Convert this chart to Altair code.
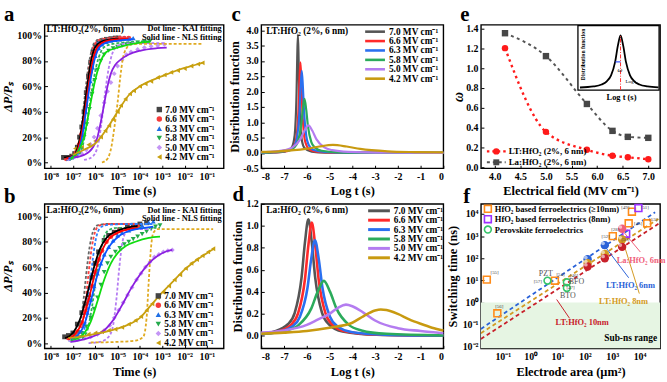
import altair as alt
import pandas as pd

FONT = "Liberation Serif"

# ---------------- shared series definitions ----------------
FIELDS = ["7.0", "6.6", "6.3", "5.8", "5.0", "4.2"]
FIELD_NAMES = [f"{f} MV cm⁻¹" for f in FIELDS]
DOT_COLORS = ["#444444", "#f53b3b", "#1f6fe5", "#23a94b", "#c495f5", "#c8a00f"]
NLS_COLORS = ["#000000", "#ff0000", "#0a55ff", "#10dd10", "#8b1fe0", "#c8a00f"]
KAI_COLORS = ["#666666", "#ff4040", "#2f7fff", "#2fb05a", "#b57cf2", "#e0aa20"]
CURVE_COLORS = ["#555555", "#ff2a2a", "#2a70f0", "#2bab5b", "#b47cf0", "#c89a10"]
SHAPES = ["square", "circle", "triangle-up", "triangle-down", "diamond", "triangle-left"]

TIME_EXPONENTS = [-8, -7, -6, -5, -4, -3, -2, -1]
PCT_TICKS = [0.0, 0.2, 0.4, 0.6, 0.8, 1.0]

# ---------------- (a) LT:HfO2 switching kinetics, log10(t) vs dP/Ps ----------------
A_DOTS = {
    "7.0": [(-7.42, 0.04), (-7.3, 0.04), (-7.18, 0.04), (-7.05, 0.05), (-6.92, 0.07), (-6.8, 0.12), (-6.7, 0.2),
            (-6.6, 0.28), (-6.5, 0.4), (-6.4, 0.55), (-6.3, 0.68), (-6.2, 0.79), (-6.1, 0.87), (-6.0, 0.92),
            (-5.85, 0.95), (-5.7, 0.96), (-5.5, 0.97), (-5.3, 0.975), (-5.1, 0.98), (-4.95, 0.98)],
    "6.6": [(-7.3, 0.03), (-7.15, 0.035), (-7.0, 0.05), (-6.85, 0.08), (-6.72, 0.14), (-6.62, 0.22), (-6.52, 0.32),
            (-6.42, 0.45), (-6.32, 0.58), (-6.22, 0.71), (-6.12, 0.8), (-6.0, 0.87), (-5.85, 0.92), (-5.7, 0.945),
            (-5.5, 0.96), (-5.3, 0.97), (-5.1, 0.975), (-4.9, 0.98), (-4.7, 0.98), (-4.5, 0.98)],
    "6.3": [(-7.2, 0.03), (-7.05, 0.04), (-6.9, 0.06), (-6.75, 0.1), (-6.62, 0.18), (-6.52, 0.28), (-6.42, 0.4),
            (-6.32, 0.52), (-6.22, 0.64), (-6.12, 0.75), (-6.0, 0.84), (-5.85, 0.9), (-5.7, 0.93), (-5.5, 0.95),
            (-5.3, 0.96), (-5.1, 0.965), (-4.9, 0.97), (-4.7, 0.975), (-4.5, 0.975), (-4.3, 0.98)],
    "5.8": [(-7.1, 0.03), (-6.95, 0.05), (-6.8, 0.08), (-6.65, 0.13), (-6.5, 0.2), (-6.38, 0.3), (-6.26, 0.42),
            (-6.14, 0.54), (-6.02, 0.65), (-5.9, 0.73), (-5.75, 0.8), (-5.6, 0.85), (-5.4, 0.88), (-5.2, 0.9),
            (-5.0, 0.91), (-4.8, 0.92), (-4.6, 0.93), (-4.4, 0.935), (-4.1, 0.945), (-3.8, 0.95), (-3.55, 0.955)],
    "5.0": [(-7.2, 0.03), (-7.0, 0.04), (-6.8, 0.05), (-6.6, 0.07), (-6.4, 0.1), (-6.2, 0.14), (-6.05, 0.2),
            (-5.9, 0.27), (-5.75, 0.37), (-5.6, 0.47), (-5.45, 0.56), (-5.3, 0.63), (-5.15, 0.7), (-5.0, 0.76),
            (-4.8, 0.81), (-4.6, 0.85), (-4.4, 0.87), (-4.1, 0.89), (-3.8, 0.905), (-3.5, 0.915), (-3.2, 0.92),
            (-2.9, 0.93)],
    "4.2": [(-6.9, 0.11), (-6.6, 0.12), (-6.3, 0.14), (-6.0, 0.17), (-5.75, 0.2), (-5.55, 0.25), (-5.38, 0.29),
            (-5.2, 0.34), (-5.0, 0.4), (-4.85, 0.45), (-4.65, 0.5), (-4.45, 0.54), (-4.27, 0.565), (-4.0, 0.6),
            (-3.75, 0.62), (-3.5, 0.64), (-3.2, 0.67), (-2.9, 0.69), (-2.6, 0.71), (-2.3, 0.725), (-2.0, 0.74),
            (-1.7, 0.76), (-1.4, 0.775), (-1.2, 0.785)],
}
A_NLS = {
    "7.0": [(-7.4, 0.04), (-7.0, 0.05), (-6.8, 0.11), (-6.6, 0.28), (-6.4, 0.55), (-6.2, 0.79), (-6.0, 0.91),
            (-5.7, 0.955), (-5.3, 0.97), (-4.95, 0.975)],
    "6.6": [(-7.3, 0.03), (-6.9, 0.06), (-6.7, 0.15), (-6.5, 0.34), (-6.3, 0.6), (-6.1, 0.81), (-5.9, 0.91),
            (-5.6, 0.95), (-5.0, 0.97), (-4.5, 0.975)],
    "6.3": [(-7.2, 0.03), (-6.8, 0.08), (-6.6, 0.19), (-6.4, 0.42), (-6.2, 0.66), (-6.0, 0.83), (-5.8, 0.91),
            (-5.5, 0.945), (-5.0, 0.96), (-4.3, 0.97)],
    "5.8": [(-7.1, 0.03), (-6.8, 0.08), (-6.5, 0.2), (-6.25, 0.43), (-6.0, 0.65), (-5.75, 0.8), (-5.5, 0.87),
            (-5.1, 0.9), (-4.6, 0.925), (-4.0, 0.945), (-3.55, 0.95)],
    "5.0": [(-6.95, 0.04), (-6.5, 0.06), (-6.1, 0.12), (-5.9, 0.2), (-5.75, 0.32), (-5.6, 0.46), (-5.45, 0.6),
            (-5.3, 0.7), (-5.1, 0.77), (-4.86, 0.81), (-4.5, 0.85), (-4.0, 0.88), (-3.23, 0.9), (-2.8, 0.905)],
    "4.2": [(-7.0, 0.06), (-6.5, 0.1), (-6.0, 0.15), (-5.5, 0.26), (-5.0, 0.4), (-4.5, 0.53), (-4.0, 0.6),
            (-3.5, 0.645), (-3.0, 0.68), (-2.5, 0.715), (-2.0, 0.745), (-1.5, 0.77), (-1.2, 0.785)],
}
A_KAI = {
    "7.0": [(-7.4, 0.04), (-7.0, 0.04), (-6.8, 0.1), (-6.6, 0.3), (-6.45, 0.55), (-6.3, 0.76), (-6.15, 0.89),
            (-6.0, 0.95), (-5.7, 0.975), (-5.3, 0.98), (-4.95, 0.98)],
    "6.6": [(-7.3, 0.03), (-6.95, 0.04), (-6.75, 0.1), (-6.55, 0.3), (-6.4, 0.55), (-6.25, 0.76), (-6.1, 0.89),
            (-5.95, 0.95), (-5.6, 0.975), (-5.0, 0.98), (-4.5, 0.98)],
    "6.3": [(-7.2, 0.03), (-6.9, 0.04), (-6.7, 0.1), (-6.5, 0.3), (-6.35, 0.55), (-6.2, 0.75), (-6.05, 0.88),
            (-5.9, 0.94), (-5.5, 0.965), (-5.0, 0.97), (-4.3, 0.975)],
    "5.8": [(-7.1, 0.03), (-6.8, 0.05), (-6.55, 0.14), (-6.35, 0.33), (-6.15, 0.57), (-5.95, 0.76), (-5.75, 0.87),
            (-5.5, 0.92), (-5.0, 0.94), (-4.3, 0.95), (-3.55, 0.955)],
    "5.0": [(-6.5, 0.02), (-6.1, 0.05), (-5.85, 0.16), (-5.7, 0.34), (-5.55, 0.56), (-5.4, 0.74), (-5.25, 0.85),
            (-5.05, 0.91), (-4.7, 0.935), (-4.2, 0.94), (-3.5, 0.94), (-2.9, 0.94)],
    "4.2": [(-5.7, 0.0), (-5.45, 0.03), (-5.28, 0.12), (-5.14, 0.28), (-5.0, 0.47), (-4.88, 0.67), (-4.76, 0.82),
            (-4.6, 0.9), (-4.4, 0.93), (-4.0, 0.935), (-3.0, 0.935), (-2.0, 0.935), (-1.2, 0.935)],
}

# ---------------- (b) La:HfO2 switching kinetics ----------------
B_DOTS = {
    "7.0": [(-7.37, 0.05), (-7.2, 0.06), (-7.0, 0.08), (-6.8, 0.15), (-6.6, 0.24), (-6.45, 0.31), (-6.3, 0.38),
            (-6.15, 0.52), (-6.0, 0.63), (-5.85, 0.72), (-5.6, 0.81), (-5.4, 0.85), (-5.15, 0.875), (-4.9, 0.895),
            (-4.56, 0.914), (-4.3, 0.93), (-4.0, 0.94), (-3.7, 0.95)],
    "6.6": [(-7.2, 0.04), (-7.0, 0.05), (-6.8, 0.09), (-6.6, 0.16), (-6.45, 0.25), (-6.3, 0.34), (-6.15, 0.45),
            (-6.0, 0.56), (-5.85, 0.66), (-5.7, 0.73), (-5.5, 0.8), (-5.3, 0.84), (-5.1, 0.87), (-4.9, 0.89),
            (-4.6, 0.9), (-4.3, 0.91), (-4.1, 0.92)],
    "6.3": [(-7.1, 0.03), (-6.9, 0.05), (-6.7, 0.09), (-6.5, 0.15), (-6.35, 0.24), (-6.2, 0.34), (-6.05, 0.45),
            (-5.9, 0.55), (-5.75, 0.63), (-5.6, 0.7), (-5.4, 0.76), (-5.2, 0.81), (-5.0, 0.85), (-4.8, 0.87),
            (-4.5, 0.89), (-4.2, 0.91), (-3.9, 0.93), (-3.6, 0.95), (-3.4, 0.96)],
    "5.8": [(-7.1, 0.03), (-6.8, 0.05), (-6.6, 0.08), (-6.4, 0.13), (-6.2, 0.2), (-6.05, 0.27), (-5.9, 0.36),
            (-5.75, 0.46), (-5.6, 0.56), (-5.45, 0.63), (-5.3, 0.68), (-5.1, 0.72), (-4.9, 0.75), (-4.7, 0.78),
            (-4.5, 0.8), (-4.3, 0.82), (-4.1, 0.84), (-3.9, 0.86), (-3.7, 0.88), (-3.5, 0.9), (-3.3, 0.92),
            (-3.1, 0.93)],
    "5.0": [(-7.1, 0.02), (-6.8, 0.03), (-6.5, 0.04), (-6.2, 0.05), (-5.9, 0.07), (-5.6, 0.1), (-5.35, 0.14),
            (-5.15, 0.2), (-4.95, 0.26), (-4.75, 0.32), (-4.55, 0.38), (-4.35, 0.44), (-4.15, 0.5), (-3.95, 0.55),
            (-3.75, 0.6), (-3.55, 0.64), (-3.35, 0.68), (-3.15, 0.7), (-2.95, 0.72), (-2.75, 0.73), (-2.55, 0.735)],
    "4.2": [(-7.2, 0.05), (-6.9, 0.055), (-6.6, 0.06), (-6.3, 0.07), (-6.0, 0.08), (-5.7, 0.09), (-5.4, 0.1),
            (-5.1, 0.11), (-4.8, 0.125), (-4.5, 0.15), (-4.2, 0.18), (-3.95, 0.21), (-3.7, 0.26), (-3.45, 0.31),
            (-3.2, 0.36), (-2.95, 0.4), (-2.7, 0.45), (-2.45, 0.5), (-2.2, 0.54), (-1.95, 0.59), (-1.7, 0.63),
            (-1.45, 0.66), (-1.2, 0.69), (-0.95, 0.72), (-0.72, 0.745)],
}
B_NLS = {
    "7.0": [(-7.35, 0.04), (-7.0, 0.08), (-6.7, 0.18), (-6.4, 0.36), (-6.1, 0.57), (-5.8, 0.74), (-5.5, 0.83),
            (-5.1, 0.88), (-4.6, 0.91), (-4.1, 0.925)],
    "6.6": [(-7.2, 0.03), (-6.9, 0.07), (-6.6, 0.16), (-6.3, 0.34), (-6.0, 0.56), (-5.7, 0.73), (-5.4, 0.82),
            (-5.0, 0.87), (-4.5, 0.9), (-4.1, 0.91)],
    "6.3": [(-7.1, 0.03), (-6.8, 0.06), (-6.5, 0.14), (-6.2, 0.33), (-5.9, 0.54), (-5.6, 0.69), (-5.3, 0.78),
            (-4.9, 0.85), (-4.4, 0.89), (-3.8, 0.91), (-3.4, 0.92)],
    "5.8": [(-7.1, 0.02), (-6.6, 0.06), (-6.2, 0.17), (-5.9, 0.33), (-5.6, 0.5), (-5.3, 0.63), (-5.0, 0.71),
            (-4.6, 0.77), (-4.2, 0.8), (-3.6, 0.83), (-3.1, 0.84)],
    "5.0": [(-7.1, 0.01), (-6.5, 0.03), (-6.0, 0.06), (-5.6, 0.1), (-5.2, 0.18), (-4.8, 0.3), (-4.4, 0.43),
            (-4.0, 0.54), (-3.6, 0.63), (-3.2, 0.69), (-2.8, 0.725), (-2.55, 0.735)],
    "4.2": [(-7.2, 0.04), (-6.5, 0.055), (-5.8, 0.08), (-5.2, 0.105), (-4.6, 0.14), (-4.0, 0.2), (-3.5, 0.3),
            (-3.0, 0.4), (-2.5, 0.49), (-2.0, 0.58), (-1.5, 0.65), (-1.0, 0.71), (-0.72, 0.74)],
}
B_KAI = {
    "7.0": [(-6.9, 0.05), (-6.7, 0.12), (-6.55, 0.3), (-6.4, 0.55), (-6.25, 0.76), (-6.1, 0.88), (-5.9, 0.93),
            (-5.5, 0.94), (-4.5, 0.94), (-3.7, 0.94)],
    "6.6": [(-6.8, 0.05), (-6.6, 0.12), (-6.45, 0.3), (-6.3, 0.55), (-6.15, 0.76), (-6.0, 0.88), (-5.8, 0.93),
            (-5.4, 0.94), (-4.6, 0.94), (-4.1, 0.94)],
    "6.3": [(-6.7, 0.04), (-6.5, 0.1), (-6.35, 0.27), (-6.2, 0.52), (-6.05, 0.74), (-5.9, 0.87), (-5.7, 0.92),
            (-5.3, 0.935), (-4.4, 0.94), (-3.4, 0.94)],
    "5.8": [(-6.8, 0.02), (-6.4, 0.08), (-6.15, 0.28), (-5.95, 0.53), (-5.75, 0.74), (-5.55, 0.86), (-5.3, 0.9),
            (-5.0, 0.91), (-4.3, 0.91), (-3.1, 0.91)],
    "5.0": [(-6.3, 0.0), (-5.8, 0.01), (-5.4, 0.05), (-5.2, 0.14), (-5.05, 0.35), (-4.92, 0.6), (-4.78, 0.8),
            (-4.6, 0.88), (-4.3, 0.9), (-3.8, 0.9), (-3.5, 0.9)],
    "4.2": [(-6.2, 0.005), (-5.0, 0.01), (-4.2, 0.02), (-3.85, 0.05), (-3.7, 0.2), (-3.6, 0.5), (-3.5, 0.76),
            (-3.4, 0.87), (-3.2, 0.9), (-2.5, 0.9), (-1.5, 0.9), (-0.72, 0.9)],
}

# ---------------- (c, d) relaxation-time distribution functions ----------------
C_CURVES = {
    "7.0": [(-8, 0.0), (-7.59, 0.01), (-6.99, 0.04), (-6.69, 0.15), (-6.57, 0.39), (-6.51, 0.77), (-6.45, 1.93),
            (-6.42, 3.09), (-6.39, 3.86), (-6.36, 3.09), (-6.33, 1.93), (-6.27, 0.77), (-6.21, 0.39), (-6.09, 0.15),
            (-5.79, 0.04), (-5.19, 0.01), (0, 0.0)],
    "6.6": [(-8, 0.0), (-7.88, 0.01), (-7.08, 0.03), (-6.68, 0.11), (-6.52, 0.3), (-6.44, 0.59), (-6.36, 1.48),
            (-6.32, 2.36), (-6.28, 2.95), (-6.24, 2.36), (-6.2, 1.48), (-6.12, 0.59), (-6.04, 0.3), (-5.88, 0.11),
            (-5.48, 0.03), (-4.68, 0.01), (0, 0.0)],
    "6.3": [(-8, 0.01), (-7.22, 0.03), (-6.72, 0.1), (-6.52, 0.27), (-6.42, 0.54), (-6.32, 1.34), (-6.27, 2.14),
            (-6.22, 2.68), (-6.17, 2.14), (-6.12, 1.34), (-6.02, 0.54), (-5.92, 0.27), (-5.72, 0.1), (-5.22, 0.03),
            (-4.22, 0.01), (0, 0.0)],
    "5.8": [(-8, 0.01), (-7.6, 0.02), (-6.85, 0.07), (-6.55, 0.18), (-6.4, 0.35), (-6.25, 0.88), (-6.175, 1.41),
            (-6.1, 1.76), (-6.025, 1.41), (-5.95, 0.88), (-5.8, 0.35), (-5.65, 0.18), (-5.35, 0.07), (-4.6, 0.02),
            (-3.1, 0.004), (0, 0.0)],
    "5.0": [(-8, 0.025), (-7.68, 0.035), (-6.98, 0.09), (-6.63, 0.18), (-6.28, 0.45), (-6.105, 0.72), (-5.93, 0.9),
            (-5.755, 0.72), (-5.58, 0.45), (-5.23, 0.18), (-4.88, 0.09), (-4.18, 0.035), (-2.43, 0.009), (0, 0.0)],
    "4.2": [(-8, 0.033), (-7.25, 0.052), (-6.05, 0.13), (-5.45, 0.208), (-4.85, 0.26), (-4.25, 0.208),
            (-3.65, 0.13), (-2.45, 0.052), (-1.25, 0.026), (0, 0.015)],
}
D_CURVES = {
    "7.0": [(-8, 0.022), (-7.43, 0.041), (-6.83, 0.106), (-6.53, 0.21), (-6.23, 0.53), (-6.08, 0.85), (-5.93, 1.06),
            (-5.78, 0.85), (-5.63, 0.53), (-5.33, 0.21), (-5.03, 0.106), (-4.43, 0.041), (-2.93, 0.011), (0, 0.003)],
    "6.6": [(-8, 0.018), (-7.28, 0.04), (-6.68, 0.103), (-6.38, 0.206), (-6.08, 0.515), (-5.93, 0.824),
            (-5.78, 1.03), (-5.63, 0.824), (-5.48, 0.515), (-5.18, 0.206), (-4.88, 0.103), (-4.28, 0.04),
            (-2.78, 0.01), (0, 0.003)],
    "6.3": [(-8, 0.017), (-7.29, 0.033), (-6.63, 0.087), (-6.3, 0.174), (-5.97, 0.435), (-5.805, 0.70),
            (-5.64, 0.87), (-5.475, 0.70), (-5.31, 0.435), (-4.98, 0.174), (-4.65, 0.087), (-3.99, 0.033),
            (-2.34, 0.009), (0, 0.003)],
    "5.8": [(-8, 0.019), (-6.9, 0.05), (-6.35, 0.10), (-5.8, 0.25), (-5.525, 0.40), (-5.25, 0.50), (-4.975, 0.40),
            (-4.7, 0.25), (-4.15, 0.10), (-3.6, 0.05), (-2.5, 0.019), (0, 0.005)],
    "5.0": [(-8, 0.03), (-7, 0.05), (-6, 0.10), (-5.5, 0.15), (-5, 0.2), (-4.6, 0.26), (-4.28, 0.284), (-4, 0.27),
            (-3.5, 0.21), (-3, 0.14), (-2, 0.07), (-1, 0.045), (0, 0.025)],
    "4.2": [(-8, 0.02), (-7, 0.03), (-6, 0.045), (-5, 0.075), (-4, 0.12), (-3.5, 0.18), (-3.0, 0.23), (-2.75, 0.24),
            (-2.5, 0.235), (-2, 0.2), (-1.5, 0.15), (-1, 0.11), (-0.5, 0.075), (0, 0.05)],
}

# ---------------- (e) distribution width vs field ----------------
E_FIELD = [4.2, 5.0, 5.8, 6.3, 6.6, 7.0]
LT_OMEGA = [1.20, 0.36, 0.18, 0.12, 0.105, 0.085]
LA_OMEGA = [1.35, 1.12, 0.64, 0.37, 0.31, 0.30]
E_FILMS = ["LT:HfO₂ (2%, 6 nm)", "La:HfO₂ (2%, 6 nm)"]
E_COLORS = ["#ff1a1a", "#474747"]
E_SHAPES = ["circle", "square"]
INSET_X = [-3.0, -2.0, -1.4, -1.0, -0.7, -0.4, -0.2, 0.0, 0.2, 0.4, 0.7, 1.0, 1.4, 2.0, 2.8]
INSET_Y = [0.018, 0.038, 0.075, 0.138, 0.246, 0.5, 0.8, 1.0, 0.8, 0.5, 0.246, 0.138, 0.075, 0.038, 0.02]

# ---------------- (f) switching time vs electrode area ----------------
OPEN_GROUPS = ["HfO₂ based ferroelectrics (≥10nm)", "HfO₂ based ferroelectrics (8nm)", "Perovskite ferroelectrics"]
OPEN_COLORS = ["#ff8c1a", "#9b30ff", "#35c46a"]
OPEN_SHAPES = ["square", "square", "circle"]
OPEN_AREA = [0.026, 0.063, 8.0, 1050, 5250, 4000, 19000, 9100, 3240, 4.3, 22, 22]
OPEN_TIME = [10.7, 0.32, 9.6, 1000, 12700, 3800, 3800, 18600, 1290, 9.6, 8.1, 4.5]
OPEN_KIND = [OPEN_GROUPS[0]] * 7 + [OPEN_GROUPS[1]] * 2 + [OPEN_GROUPS[2]] * 3

SPHERE_KINDS = ["LT 6nm", "LT 8nm", "LT 10nm", "La 6nm"]
SPHERE_COLORS = ["#2a62d8", "#d39a22", "#c8202a", "#f0607a"]
SPHERE_AREA = [126, 537, 126, 537, 2300, 126, 537, 2300, 2300]
SPHERE_TIME = [89, 390, 59, 155, 700, 42, 100, 325, 2150]
SPHERE_KIND = ["LT 6nm", "LT 6nm", "LT 8nm", "LT 8nm", "LT 8nm", "LT 10nm", "LT 10nm", "LT 10nm", "La 6nm"]

FIT_KIND = ["LT 6nm", "LT 6nm", "LT 8nm", "LT 8nm", "LT 10nm", "LT 10nm"]
FIT_AREA = [0.0158, 37000, 0.0158, 49000, 0.0158, 49000]
FIT_TIME = [0.063, 12000, 0.040, 6000, 0.022, 3600]

ARROW_KIND = ["La 6nm", "La 6nm", "LT 6nm", "LT 6nm", "LT 8nm", "LT 8nm", "LT 10nm", "LT 10nm"]
ARROW_AREA = [2190, 10700, 537, 4000, 2400, 9800, 27.5, 9.3]
ARROW_TIME = [2000, 190, 347, 13, 650, 2.5, 0.19, 1.35]

NOTE_KIND = ["La 6nm", "LT 6nm", "LT 8nm", "LT 10nm"]
NOTE_TEXT = ["La:HfO₂ 6nm", "LT:HfO₂ 6nm", "LT:HfO₂ 8nm", "LT:HfO₂ 10nm"]
NOTE_AREA = [1450, 590, 330, 8.5]
NOTE_TIME = [83, 6.3, 1.1, 0.13]

REF_TEXT = ["[55]", "[56]", "[57]", "[54]", "[46]", "[47]", "[52]", "[28]", "[49]", "[51]", "[45]", "[53]", "[50]"]
REF_AREA = [0.05, 0.074, 1.9, 12.9, 40, 30, 575, 1300, 3000, 15600, 8900, 31600, 3000]
REF_TIME = [24, 0.68, 8.9, 19, 17.5, 4.8, 1000, 2150, 20500, 20000, 3800, 6000, 775]

NAME_TEXT = ["PZT", "BFO", "BTO"]
NAME_AREA = [3.75, 49, 24]
NAME_TIME = [19.6, 8.6, 1.85]

AREA_EXPONENTS = [-1, 0, 1, 2, 3, 4]
NS_EXPONENTS = [-2, -1, 0, 1, 2, 3, 4]

ONE = pd.DataFrame({"k": [0]})
SUP = str.maketrans("-0123456789", "⁻⁰¹²³⁴⁵⁶⁷⁸⁹")


def power_label(e):
    return "10" + str(e).translate(SUP)


def label_expr(keys, key="datum.value"):
    expr = "''"
    for k in reversed(keys):
        expr = f"{key} == {k} ? '{power_label(k)}' : {expr}"
    return expr


def dash_fix(fmt):
    return f"replace(format(datum.value, '{fmt}'), '\u2212', '-')"


def long_table(series):
    return pd.DataFrame([{"s": k, "t": t, "v": v} for k, pts in series.items() for t, v in pts])


def text(txt, x, y, size=9.0, align="left", baseline="middle", color="black", weight="bold", angle=0, style="normal"):
    return alt.Chart(ONE).mark_text(
        text=txt, align=align, baseline=baseline, fontSize=size, color=color,
        fontWeight=weight, angle=angle, font=FONT, fontStyle=style,
    ).encode(x=alt.value(x), y=alt.value(y))


def letter(ch, dx, dy):
    return text(ch, dx, dy, size=21, baseline="alphabetic")


def marker_key(x0, y0, step):
    """Symbol + label rows for the six field strengths."""
    rows = []
    for i, (name, col, shp) in enumerate(zip(FIELD_NAMES, DOT_COLORS, SHAPES)):
        yy = y0 + i * step
        rows.append(alt.Chart(ONE).mark_point(filled=True, size=30, opacity=1, strokeWidth=0, shape=shp,
                                              color=col).encode(x=alt.value(x0), y=alt.value(yy)))
        rows.append(text(name, x0 + 6, yy, size=9.4))
    return rows


def line_key(x0, x1, y0, step, width):
    rows = []
    for i, (name, col) in enumerate(zip(FIELD_NAMES, CURVE_COLORS)):
        yy = y0 + i * step
        rows.append(alt.Chart(ONE).mark_rule(color=col, strokeWidth=width).encode(
            x=alt.value(x0), x2=alt.value(x1), y=alt.value(yy)))
        rows.append(text(name, x1 + 4, yy, size=9.4))
    return rows


# ---------------- kinetic panels (a, b) ----------------
def kinetics_panel(dots, nls, kai, ydom, height, key_x, key_y0, key_step, sample, sample_y, fit_y, tag, tag_y):
    width = 181
    x = alt.X("t:Q", scale=alt.Scale(domain=[-8.27, -0.25], nice=False),
              axis=alt.Axis(values=TIME_EXPONENTS, labelExpr=label_expr(TIME_EXPONENTS), title="Time (s)"))
    y = alt.Y("v:Q", scale=alt.Scale(domain=ydom, nice=False),
              axis=alt.Axis(values=PCT_TICKS, format=".0%", title="ΔP/Pₛ", titleFontStyle="italic",
                            titlePadding=2))
    dots_layer = alt.Chart(long_table(dots)).mark_point(filled=True, size=24, opacity=1, strokeWidth=0).encode(
        x=x, y=y,
        fill=alt.Fill("s:N", scale=alt.Scale(domain=FIELDS, range=DOT_COLORS), legend=None),
        shape=alt.Shape("s:N", scale=alt.Scale(domain=FIELDS, range=SHAPES), legend=None),
    )
    kai_layer = alt.Chart(long_table(kai)).mark_line(strokeDash=[3, 2], strokeWidth=1.8, interpolate="monotone").encode(
        x=x, y=y, color=alt.Color("s:N", scale=alt.Scale(domain=FIELDS, range=KAI_COLORS), legend=None))
    nls_layer = alt.Chart(long_table(nls)).mark_line(strokeWidth=1.8, interpolate="monotone").encode(
        x=x, y=y, stroke=alt.Stroke("s:N", scale=alt.Scale(domain=FIELDS, range=NLS_COLORS), legend=None))
    return alt.layer(
        dots_layer, kai_layer, nls_layer,
        *marker_key(key_x, key_y0, key_step),
        text(sample, 2, sample_y, size=9.5),
        text("Dot line  -  KAI fitting", width - 2, fit_y, size=8.4, align="right"),
        text("Solid line - NLS fitting", width - 2, fit_y + 8.8, size=8.4, align="right"),
        letter(tag, -41, tag_y),
    ).properties(width=width, height=height)


# ---------------- distribution panels (c, d) ----------------
def dist_panel(curves, ydom, yticks, height, key_x0, key_x1, sample, tag, tag_dx, tag_y, stroke_w):
    width = 184
    x = alt.X("t:Q", scale=alt.Scale(domain=[-8, 0], nice=False),
              axis=alt.Axis(values=list(range(-8, 1)), labelExpr=dash_fix("d"), title="Log t (s)"))
    y = alt.Y("v:Q", scale=alt.Scale(domain=ydom, nice=False),
              axis=alt.Axis(values=yticks, labelExpr=dash_fix(".1f"), title="Distribution function",
                            titlePadding=1))
    lines = alt.Chart(long_table(curves)).mark_line(strokeWidth=stroke_w, interpolate="monotone").encode(
        x=x, y=y, color=alt.Color("s:N", scale=alt.Scale(domain=FIELDS, range=CURVE_COLORS), legend=None))
    return alt.layer(
        lines,
        *line_key(key_x0, key_x1, 7, 9.5, stroke_w + 0.4),
        text(sample, 5, 6, size=9.5),
        letter(tag, tag_dx, tag_y),
    ).properties(width=width, height=height)


panel_a = kinetics_panel(A_DOTS, A_NLS, A_KAI, [-0.045, 1.085], 145, 116, 85.7, 9.6,
                         "LT:HfO₂(2%, 6nm)", 4.5, 3.3, "a", -4)
panel_b = kinetics_panel(B_DOTS, B_NLS, B_KAI, [-0.041, 1.099], 146, 115, 93, 9.5,
                         "La:HfO₂(2%, 6nm)", 6.5, 5.8, "b", -1)
panel_c = dist_panel(C_CURVES, [-0.5, 4.18], [-0.5, 0.0, 0.5, 1.0, 1.5, 2.0, 2.5, 3.0, 3.5, 4.0], 145, 105, 125,
                     "LT:HfO₂ (2%, 6 nm)", "c", -30, -4, 2.2)
panel_d = dist_panel(D_CURVES, [-0.113, 1.2], [0.0, 0.2, 0.4, 0.6, 0.8, 1.0, 1.2], 146, 108, 130,
                     "La:HfO₂ (2%, 6 nm)", "d", -29, -3, 2.6)

# ---------------- (e) panel ----------------
E_W, E_H = 181, 145
e_df = pd.DataFrame({
    "field": E_FIELD + E_FIELD,
    "w": LT_OMEGA + LA_OMEGA,
    "film": [E_FILMS[0]] * len(E_FIELD) + [E_FILMS[1]] * len(E_FIELD),
})
ex = alt.X("field:Q", scale=alt.Scale(domain=[3.73, 7.23], nice=False),
           axis=alt.Axis(values=[4.0, 4.5, 5.0, 5.5, 6.0, 6.5, 7.0], format=".1f",
                         title="Electrical field (MV cm⁻¹)"))
ey = alt.Y("w:Q", scale=alt.Scale(domain=[-0.005, 1.435], nice=False),
           axis=alt.Axis(values=[0.0, 0.2, 0.4, 0.6, 0.8, 1.0, 1.2, 1.4], format=".1f", title="ω",
                         titleFontStyle="italic", titleFontSize=14, titlePadding=0))
ecolor = alt.Color("film:N", scale=alt.Scale(domain=E_FILMS, range=E_COLORS), legend=None)
eshape = alt.Shape("film:N", scale=alt.Scale(domain=E_FILMS, range=E_SHAPES), legend=None)

e_main = alt.layer(
    alt.Chart(e_df).transform_filter(alt.datum.film == E_FILMS[1]).mark_line(
        interpolate="monotone", strokeDash=[3, 3.5], strokeWidth=2, color="#555555").encode(x=ex, y=ey),
    alt.Chart(e_df).transform_filter(alt.datum.film == E_FILMS[0]).mark_line(
        interpolate="monotone", strokeDash=[2.5, 3.5], strokeWidth=2.4, color="#ff1a1a").encode(x=ex, y=ey),
    alt.Chart(e_df).mark_point(filled=True, size=42, opacity=1).encode(x=ex, y=ey, color=ecolor, shape=eshape),
    # legend rows
    alt.Chart(ONE).mark_rule(strokeDash=[2.5, 3], strokeWidth=2.2, color=E_COLORS[0]).encode(
        x=alt.value(6), x2=alt.value(25), y=alt.value(128)),
    alt.Chart(ONE).mark_point(filled=True, size=42, opacity=1, shape="circle", color=E_COLORS[0]).encode(
        x=alt.value(15.5), y=alt.value(128)),
    text(E_FILMS[0], 28, 128, size=9),
    alt.Chart(ONE).mark_rule(strokeDash=[3, 3], strokeWidth=2, color="#555555").encode(
        x=alt.value(6), x2=alt.value(25), y=alt.value(139)),
    alt.Chart(ONE).mark_point(filled=True, size=36, opacity=1, shape="square", color=E_COLORS[1]).encode(
        x=alt.value(15.5), y=alt.value(139)),
    text(E_FILMS[1], 28, 139, size=9),
    letter("e", -21, -4),
)

ix_scale = alt.Scale(domain=[-3.15, 2.85], range=[98, 180], nice=False)
iy_scale = alt.Scale(domain=[-0.03, 1.18], range=[66, 1], nice=False)
inset_df = pd.DataFrame({"ix": INSET_X, "iy": INSET_Y})
ix = alt.X("ix:Q", scale=ix_scale, axis=None)
iy = alt.Y("iy:Q", scale=iy_scale, axis=None)
e_inset = alt.layer(
    alt.Chart(ONE).mark_rect(fill="white", stroke="black", strokeWidth=1.3).encode(
        x=alt.value(98), x2=alt.value(180), y=alt.value(1), y2=alt.value(66)),
    alt.Chart(inset_df).mark_line(color="black", strokeWidth=1.8, interpolate="monotone").encode(x=ix, y=iy),
    alt.Chart(pd.DataFrame({"ix": [0.0], "iy": [-0.03], "iy2": [1.0]})).mark_rule(
        color="#ff3030", strokeDash=[4, 1.5, 1, 1.5], strokeWidth=1).encode(x=ix, y=iy, y2="iy2:Q"),
    alt.Chart(pd.DataFrame({"ix": [-0.38], "ix2": [0.0], "iy": [0.5]})).mark_rule(
        color="#3050ff", strokeWidth=1.2).encode(x=ix, x2="ix2:Q", y=iy),
    text("ω", 138, 46, size=7, weight="normal", style="italic"),
    text("Log t₀", 146, 57, size=5, weight="normal"),
    text("Distribution function", 103, 30, size=5.8, align="center", angle=270),
    text("Log t (s)", 142, 73, size=8.5, align="center"),
)
panel_e = alt.layer(e_main, e_inset).resolve_scale(x="independent", y="independent").properties(
    width=E_W, height=E_H)

# ---------------- (f) panel ----------------
F_W, F_H = 181, 146
fx = alt.X("area:Q", scale=alt.Scale(type="log", domain=[0.01585, 56234], nice=False),
           axis=alt.Axis(values=[10.0 ** e for e in AREA_EXPONENTS],
                         labelExpr=label_expr(AREA_EXPONENTS, "round(log(datum.value) / LN10)"),
                         title="Electrode area (µm²)"))
fy = alt.Y("time:Q", scale=alt.Scale(type="log", domain=[0.0083, 28840], nice=False),
           axis=alt.Axis(values=[10.0 ** e for e in NS_EXPONENTS],
                         labelExpr=label_expr(NS_EXPONENTS, "round(log(datum.value) / LN10)"),
                         title="Switching time (ns)", titlePadding=3))
kind_color = alt.Color("kind:N", scale=alt.Scale(domain=SPHERE_KINDS, range=SPHERE_COLORS), legend=None)

open_df = pd.DataFrame({"area": OPEN_AREA, "time": OPEN_TIME, "group": OPEN_KIND})
sphere_df = pd.DataFrame({"area": SPHERE_AREA, "time": SPHERE_TIME, "kind": SPHERE_KIND})
fit_df = pd.DataFrame({"area": FIT_AREA, "time": FIT_TIME, "kind": FIT_KIND})
arrow_df = pd.DataFrame({"area": ARROW_AREA, "time": ARROW_TIME, "kind": ARROW_KIND})
note_df = pd.DataFrame({"area": NOTE_AREA, "time": NOTE_TIME, "kind": NOTE_KIND, "label": NOTE_TEXT})
ref_df = pd.DataFrame({"area": REF_AREA, "time": REF_TIME, "label": REF_TEXT})
name_df = pd.DataFrame({"area": NAME_AREA, "time": NAME_TIME, "label": NAME_TEXT})

f_layers = [
    alt.Chart(ONE).mark_rect(color="#e6f5e3").encode(
        x=alt.value(0), x2=alt.value(F_W), y=alt.datum(1.0), y2=alt.value(F_H)),
    alt.Chart(fit_df).mark_line(strokeDash=[4, 3], strokeWidth=1.8, clip=True).encode(
        x=fx, y=fy, color=kind_color),
    alt.Chart(arrow_df).mark_line(strokeWidth=1).encode(x=fx, y=fy, color=kind_color),
    alt.Chart(open_df).mark_point(filled=False, size=48, strokeWidth=1.6, opacity=1).encode(
        x=fx, y=fy,
        stroke=alt.Stroke("group:N", scale=alt.Scale(domain=OPEN_GROUPS, range=OPEN_COLORS), legend=None),
        shape=alt.Shape("group:N", scale=alt.Scale(domain=OPEN_GROUPS, range=OPEN_SHAPES), legend=None)),
    alt.Chart(sphere_df).mark_circle(size=72, opacity=1).encode(x=fx, y=fy, color=kind_color),
    alt.Chart(sphere_df).mark_circle(size=14, opacity=0.6, color="white", xOffset=-1.8, yOffset=-1.8).encode(
        x=fx, y=fy),
    alt.Chart(note_df).mark_text(align="left", baseline="middle", fontSize=8.5, fontWeight="bold",
                                 font=FONT).encode(x=fx, y=fy, text="label:N", color=kind_color),
    alt.Chart(ref_df).mark_text(align="center", baseline="middle", fontSize=5, fontWeight="normal",
                                font=FONT, color="#444444").encode(x=fx, y=fy, text="label:N"),
    alt.Chart(name_df).mark_text(align="center", baseline="middle", fontSize=8, fontWeight="normal",
                                 font=FONT, color="#555555").encode(x=fx, y=fy, text="label:N"),
    text("Sub-ns range", F_W - 3, F_H - 10, size=9.5, align="right"),
    letter("f", -18, -1),
]
for i, (grp, col, shp) in enumerate(zip(OPEN_GROUPS, OPEN_COLORS, OPEN_SHAPES)):
    yy = 5 + i * 10.5
    f_layers.append(alt.Chart(ONE).mark_point(filled=False, size=48, strokeWidth=1.6, opacity=1,
                                              shape=shp, color=col).encode(x=alt.value(7), y=alt.value(yy)))
    f_layers.append(text(grp, 14, yy, size=8.6))
panel_f = alt.layer(*f_layers).properties(width=F_W, height=F_H)

chart = alt.concat(
    panel_a, panel_c, panel_e, panel_b, panel_d, panel_f,
    columns=3, spacing={"row": 36, "column": 38}, bounds="flush",
).resolve_scale(
    color="independent", fill="independent", stroke="independent", shape="independent",
).properties(
    padding={"left": 1, "top": 1, "right": 0, "bottom": 0},
).configure_view(
    stroke="black", strokeWidth=1.4,
).configure_axis(
    labelFont=FONT, labelFontSize=10, labelFontWeight="bold", labelColor="black",
    titleFont=FONT, titleFontSize=12.5, titleFontWeight="bold", titleColor="black",
    grid=False, domain=False, tickColor="black", tickSize=3, tickWidth=1, offset=-3, labelPadding=3,
)

chart.save("out.html", embed_options={"renderer": "svg", "actions": False})
